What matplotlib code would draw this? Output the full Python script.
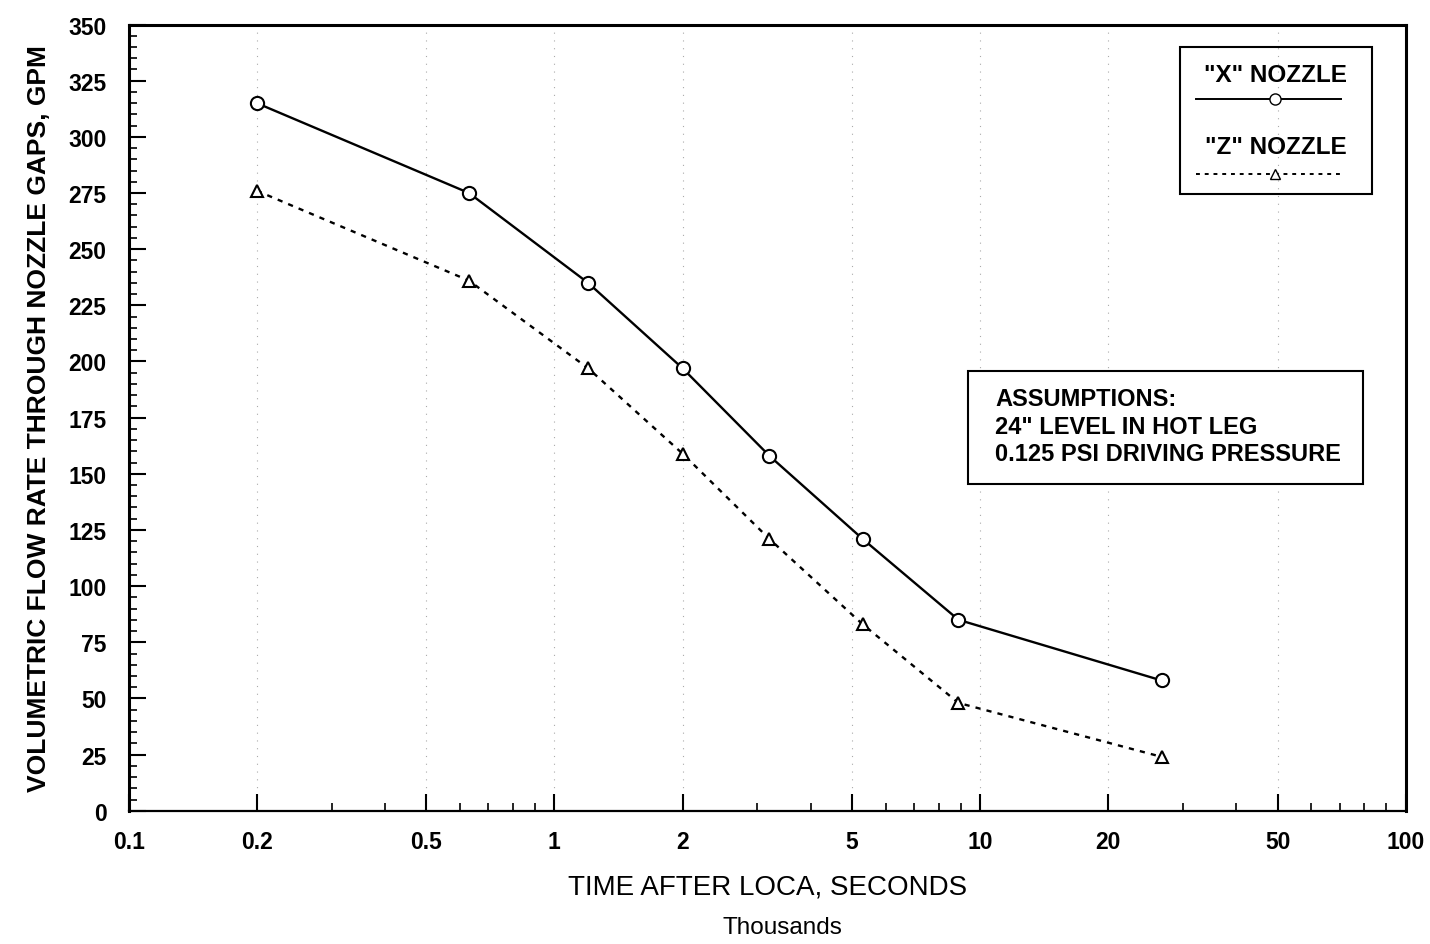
import numpy as np
import matplotlib.pyplot as plt
from matplotlib.lines import Line2D
from matplotlib.patches import Rectangle
from matplotlib.ticker import FixedLocator, FixedFormatter, MultipleLocator

plt.rcParams['font.family'] = ['Liberation Sans', 'DejaVu Sans']

# time after LOCA, thousands of seconds
time_k = [0.2, 0.63, 1.2, 2.0, 3.2, 5.3, 8.9, 26.7]
# flow rate through nozzle gaps, gpm
x_nozzle = [315, 275, 235, 197, 158, 121, 85, 58]
z_nozzle = [276, 236, 197, 159, 121, 83, 48, 24]

x_major = [0.1, 0.2, 0.5, 1, 2, 5, 10, 20, 50, 100]
x_major_labels = ['0.1', '0.2', '0.5', '1', '2', '5', '10', '20', '50', '100']
x_minor = [0.3, 0.4, 0.6, 0.7, 0.8, 0.9, 3, 4, 6, 7, 8, 9, 30, 40, 60, 70, 80, 90]

fig = plt.figure(figsize=(14.3, 9.45), dpi=100)
ax = fig.add_axes([0.09, 0.141, 0.893, 0.832])

ax.plot(time_k, x_nozzle, color='black', lw=1.7, marker='o', ms=9.5,
        mfc='white', mec='black', mew=1.5, zorder=3)
ax.plot(time_k, z_nozzle, color='black', lw=1.7, ls=(0, (2.2, 2.6)), marker='^',
        ms=8.5, mfc='white', mec='black', mew=1.5, zorder=3)

ax.set_xscale('log')
ax.set_xlim(0.1, 100)
ax.set_ylim(0, 350)

ax.xaxis.set_major_locator(FixedLocator(x_major))
ax.xaxis.set_major_formatter(FixedFormatter(x_major_labels))
ax.xaxis.set_minor_locator(FixedLocator(x_minor))
ax.xaxis.set_minor_formatter(FixedFormatter([''] * len(x_minor)))
ax.yaxis.set_major_locator(MultipleLocator(25))
ax.yaxis.set_minor_locator(MultipleLocator(5))

ax.tick_params(axis='both', which='major', direction='in', length=12, width=1.5,
               labelsize=16.5)
ax.tick_params(axis='both', which='minor', direction='in', length=6, width=1.2)
ax.tick_params(axis='x', which='major', pad=14)
ax.tick_params(axis='y', which='major', pad=16)
for lab in ax.get_xticklabels() + ax.get_yticklabels():
    lab.set_fontweight('bold')

for side in ['left', 'top', 'right']:
    ax.spines[side].set_linewidth(2.2)
ax.spines['bottom'].set_linewidth(1.6)

ax.grid(True, axis='x', which='major', ls=(0, (1, 6)), color='#aaaaaa', lw=0.8)

ax.set_ylabel('VOLUMETRIC FLOW RATE THROUGH NOZZLE GAPS, GPM',
              fontsize=19, fontweight='bold', labelpad=12)
fig.text(0.537, 1 - 888 / 945, 'TIME AFTER LOCA, SECONDS', ha='center',
         va='center', fontsize=20)
fig.text(0.547, 1 - 928 / 945, 'Thousands', ha='center', va='center',
         fontsize=17.5)

# legend box
ax.add_patch(Rectangle((0.823, 0.784), 0.151, 0.1875, transform=ax.transAxes,
                       fill=False, ec='black', lw=1.5, zorder=4))
ax.text(0.898, 0.937, '"X" NOZZLE', transform=ax.transAxes, ha='center',
        va='center', fontsize=17.5, fontweight='bold')
ax.add_line(Line2D([0.836, 0.898, 0.949], [0.905, 0.905, 0.905],
                   transform=ax.transAxes, color='black', lw=1.4,
                   marker='o', markevery=[1], ms=8, mfc='white', mec='black'))
ax.text(0.898, 0.845, '"Z" NOZZLE', transform=ax.transAxes, ha='center',
        va='center', fontsize=17.5, fontweight='bold')
ax.add_line(Line2D([0.836, 0.898, 0.949], [0.810, 0.810, 0.810],
                   transform=ax.transAxes, color='black', lw=1.4,
                   ls=(0, (2, 2.5)), marker='^', markevery=[1], ms=7.5,
                   mfc='white', mec='black'))

# assumptions box
ax.add_patch(Rectangle((0.657, 0.4157), 0.3094, 0.144, transform=ax.transAxes,
                       fc='white', ec='black', lw=1.5, zorder=4))
ax.text(0.6785, 0.489,
        'ASSUMPTIONS:\n24" LEVEL IN HOT LEG\n0.125 PSI DRIVING PRESSURE',
        transform=ax.transAxes, ha='left', va='center', fontsize=17,
        fontweight='bold', linespacing=1.25, zorder=5)

fig.savefig('out.png', dpi=100)
